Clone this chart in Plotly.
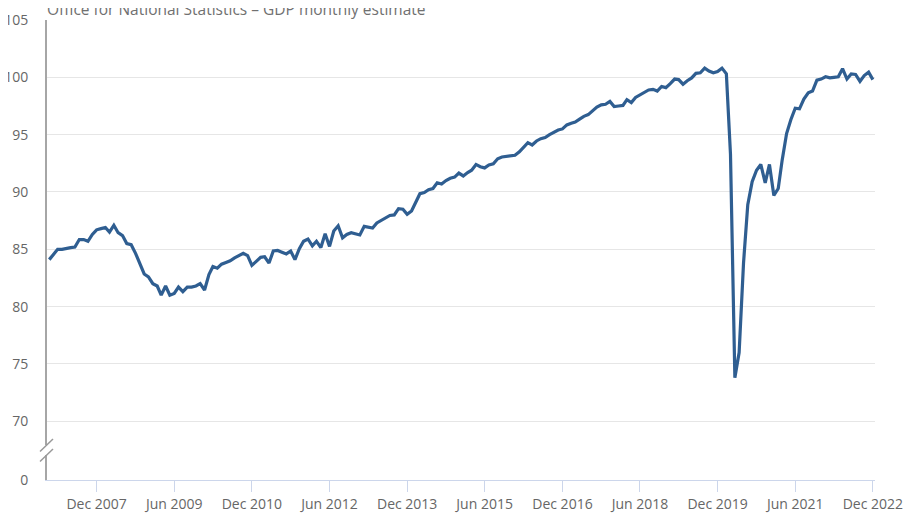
import pandas as pd
import plotly.graph_objects as go

# Monthly GDP index (Jan 2007 - Dec 2022)
months = pd.date_range("2007-01-01", periods=192, freq="MS")

gdp_2007 = [84.1, 84.6, 85.0, 85.0, 85.1, 85.15, 85.2, 85.85, 85.85, 85.7, 86.3, 86.7]
gdp_2008 = [86.8, 86.9, 86.5, 87.1, 86.45, 86.2, 85.5, 85.4, 84.65, 83.75, 82.85, 82.6]
gdp_2009 = [82.0, 81.8, 81.0, 81.8, 81.0, 81.15, 81.7, 81.3, 81.7, 81.7, 81.8, 82.0]
gdp_2010 = [81.45, 82.8, 83.5, 83.35, 83.7, 83.85, 84.0, 84.25, 84.45, 84.65, 84.45, 83.6]
gdp_2011 = [83.95, 84.3, 84.35, 83.8, 84.85, 84.9, 84.75, 84.6, 84.85, 84.1, 85.05, 85.7]
gdp_2012 = [85.9, 85.3, 85.7, 85.15, 86.35, 85.25, 86.6, 87.05, 86.0, 86.3, 86.45, 86.35]
gdp_2013 = [86.25, 87.0, 86.95, 86.85, 87.3, 87.5, 87.75, 87.95, 88.0, 88.55, 88.5, 88.05]
gdp_2014 = [88.35, 89.2, 89.85, 89.95, 90.2, 90.3, 90.8, 90.7, 91.0, 91.2, 91.3, 91.65]
gdp_2015 = [91.4, 91.7, 91.9, 92.4, 92.2, 92.1, 92.35, 92.45, 92.9, 93.05, 93.1, 93.15]
gdp_2016 = [93.2, 93.5, 93.9, 94.3, 94.1, 94.45, 94.65, 94.75, 95.0, 95.2, 95.4, 95.5]
gdp_2017 = [95.85, 96.0, 96.1, 96.35, 96.6, 96.75, 97.1, 97.4, 97.6, 97.65, 97.9, 97.45]
gdp_2018 = [97.5, 97.55, 98.05, 97.8, 98.25, 98.45, 98.65, 98.9, 98.95, 98.8, 99.2, 99.1]
gdp_2019 = [99.45, 99.85, 99.8, 99.4, 99.7, 99.95, 100.35, 100.4, 100.8, 100.55, 100.4, 100.5]
gdp_2020 = [100.8, 100.3, 93.3, 73.8, 76.0, 83.8, 88.9, 90.9, 91.9, 92.4, 90.8, 92.4]
gdp_2021 = [89.7, 90.3, 92.8, 95.1, 96.3, 97.3, 97.25, 98.1, 98.65, 98.8, 99.75, 99.85]
gdp_2022 = [100.05, 99.95, 100.0, 100.05, 100.75, 99.85, 100.3, 100.25, 99.65, 100.15, 100.45, 99.8]

gdp = (gdp_2007 + gdp_2008 + gdp_2009 + gdp_2010 + gdp_2011 + gdp_2012 + gdp_2013
       + gdp_2014 + gdp_2015 + gdp_2016 + gdp_2017 + gdp_2018 + gdp_2019 + gdp_2020
       + gdp_2021 + gdp_2022)

x_tick_dates = ["2007-12-01", "2009-06-01", "2010-12-01", "2012-06-01", "2013-12-01",
                "2015-06-01", "2016-12-01", "2018-06-01", "2019-12-01", "2021-06-01",
                "2022-12-01"]
x_tick_labels = ["Dec 2007", "Jun 2009", "Dec 2010", "Jun 2012", "Dec 2013", "Jun 2015",
                 "Dec 2016", "Jun 2018", "Dec 2019", "Jun 2021", "Dec 2022"]
y_ticks_upper = [70, 75, 80, 85, 90, 95, 100, 105]
y_ticks_lower = [0]

title_text = "Office for National Statistics – GDP monthly estimate"

FONT = "Open Sans"
LINE_COLOR = "#2f5e91"
TICK_COLOR = "#666666"

# page body has an 8px margin, so the figure sits at (8, 8) in the window
OFF = 8
W, H = 912 - OFF, 520 - OFF
ML, MT = 47 - OFF, 20 - OFF
MR = W - (875 - OFF)
MB = H - (480 - OFF)
plot_h = H - MT - MB  # 460

def frac(screen_y):
    return (480 - screen_y) / plot_h

upper_bottom_px = 445
lower_top_px = 455
px_per_unit = (421.3 - 20.2) / 35.0
upper_min = 70 - (upper_bottom_px - 421.3) / px_per_unit
lower_max = (480 - lower_top_px) / px_per_unit

fig = go.Figure()
fig.add_trace(go.Scatter(
    x=months, y=gdp, mode="lines",
    line=dict(color=LINE_COLOR, width=3.2),
    xaxis="x", yaxis="y", showlegend=False,
    hovertemplate="%{x|%b %Y}: %{y}<extra></extra>",
))
fig.add_trace(go.Scatter(x=[], y=[], xaxis="x", yaxis="y2", showlegend=False,
                         hoverinfo="skip"))

fig.update_layout(
    width=W, height=H,
    margin=dict(l=ML, r=MR, t=MT, b=MB, autoexpand=False),
    paper_bgcolor="white", plot_bgcolor="white",
    font=dict(family=FONT, size=14, color=TICK_COLOR),
    title=dict(text=title_text, x=0, xref="paper", xanchor="left",
               y=1 - 1.5 / H, yref="container", yanchor="middle",
               font=dict(family=FONT, size=15.5, color="#707070")),
    xaxis=dict(
        type="date", anchor="y2", automargin=False,
        range=["2006-12-16", "2022-12-16"],
        tickvals=x_tick_dates, ticktext=x_tick_labels,
        showgrid=False, zeroline=False,
        showline=True, linecolor="#ccd6eb", linewidth=1,
        ticks="outside", ticklen=11, tickcolor="#ccd6eb", tickwidth=1,
        tickfont=dict(family=FONT, size=14, color=TICK_COLOR),
    ),
    yaxis=dict(
        domain=[frac(upper_bottom_px), 1], automargin=False,
        range=[upper_min, 105],
        tickvals=y_ticks_upper,
        showgrid=True, gridcolor="#e6e6e6", gridwidth=1,
        zeroline=False,
        showline=True, linecolor="#a6a6a6", linewidth=2,
        ticks="", ticklabelstandoff=14,
        tickfont=dict(family=FONT, size=14, color=TICK_COLOR),
        anchor="x",
    ),
    yaxis2=dict(
        domain=[0, frac(lower_top_px)], automargin=False,
        range=[0, lower_max],
        tickvals=y_ticks_lower,
        showgrid=False, zeroline=False,
        showline=True, linecolor="#a6a6a6", linewidth=2,
        ticks="", ticklabelstandoff=14,
        tickfont=dict(family=FONT, size=14, color=TICK_COLOR),
        anchor="x",
    ),
    shapes=[
        dict(type="line", xref="paper", yref="paper",
             xsizemode="pixel", ysizemode="pixel",
             xanchor=0, yanchor=frac(upper_bottom_px),
             x0=-7, x1=6, y0=-6.5, y1=6,
             line=dict(color="#999999", width=1.5)),
        dict(type="line", xref="paper", yref="paper",
             xsizemode="pixel", ysizemode="pixel",
             xanchor=0, yanchor=frac(lower_top_px),
             x0=-7, x1=6, y0=-6.5, y1=6,
             line=dict(color="#999999", width=1.5)),
    ],
)

fig.write_html("out.html")
